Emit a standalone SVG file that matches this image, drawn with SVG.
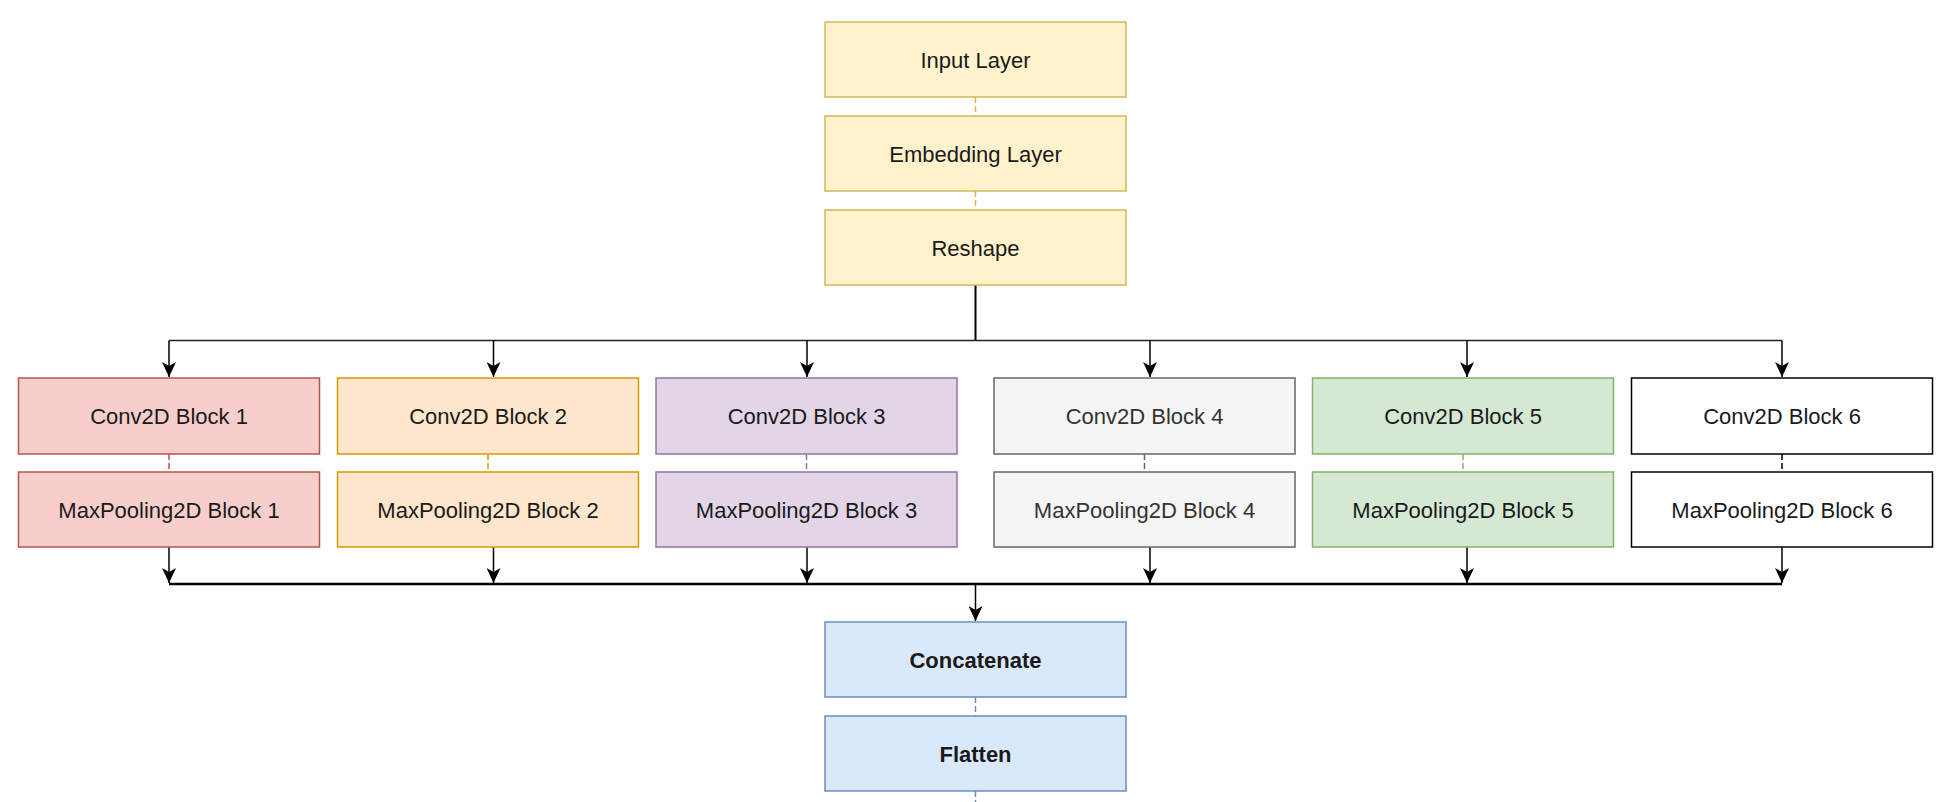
<svg xmlns="http://www.w3.org/2000/svg" width="1954" height="802" viewBox="0 0 1954 802">
<style>
  .box { stroke-width: 1.5; }
  .lbl { font-family: "Liberation Sans", Arial, Helvetica, sans-serif; font-size: 22px; text-anchor: middle; fill: #1a1a1a; }
  .bold { font-weight: bold; }
  .yel { fill: #fff2cc; stroke: #d6b656; }
  .red { fill: #f8cecc; stroke: #b85450; }
  .org { fill: #ffe6cc; stroke: #d79b00; }
  .pur { fill: #e1d5e7; stroke: #9673a6; }
  .gry { fill: #f5f5f5; stroke: #666666; }
  .grn { fill: #d5e8d4; stroke: #82b366; }
  .wht { fill: #ffffff; stroke: #000000; }
  .blu { fill: #dae8fc; stroke: #6c8ebf; }
  .dash { fill: none; stroke-width: 1.5; stroke-dasharray: 6 3; }
  .edge { fill: none; stroke: #000; stroke-width: 1.5; }
  .arr { marker-end: url(#ah); }
</style>
<defs>
  <marker id="ah" viewBox="0 0 14 15" refX="7" refY="15" markerWidth="14" markerHeight="15" markerUnits="userSpaceOnUse" orient="0">
    <path d="M0,0 L7,4 L14,0 L7,15 Z" fill="#000"/>
  </marker>
</defs>
<rect width="1954" height="802" fill="#ffffff"/>

<g id="connectors">
  <!-- dashed links -->
  <line class="dash" stroke="#d6b656" x1="975.5" y1="97" x2="975.5" y2="116"/>
  <line class="dash" stroke="#d6b656" x1="975.5" y1="191" x2="975.5" y2="210"/>
  <line class="dash" stroke="#b85450" x1="169" y1="454" x2="169" y2="472"/>
  <line class="dash" stroke="#d79b00" x1="488" y1="454" x2="488" y2="472"/>
  <line class="dash" stroke="#9673a6" x1="806.5" y1="454" x2="806.5" y2="472"/>
  <line class="dash" stroke="#666666" x1="1144.5" y1="454" x2="1144.5" y2="472"/>
  <line class="dash" stroke="#82b366" x1="1463" y1="454" x2="1463" y2="472"/>
  <line class="dash" stroke="#000000" x1="1782" y1="454" x2="1782" y2="472"/>
  <line class="dash" stroke="#6c8ebf" x1="975.5" y1="697" x2="975.5" y2="716"/>
  <line class="dash" stroke="#6c8ebf" x1="975.5" y1="791" x2="975.5" y2="802"/>
  <!-- fan out -->
  <line class="edge" style="stroke-width:2" x1="975.5" y1="285" x2="975.5" y2="340.5"/>
  <line class="edge" style="stroke:#222" x1="169" y1="340.5" x2="1782" y2="340.5"/>
  <line class="edge arr" x1="169" y1="340.5" x2="169" y2="377"/>
  <line class="edge arr" x1="493.5" y1="340.5" x2="493.5" y2="377"/>
  <line class="edge arr" x1="807" y1="340.5" x2="807" y2="377"/>
  <line class="edge arr" x1="1150" y1="340.5" x2="1150" y2="377"/>
  <line class="edge arr" x1="1467" y1="340.5" x2="1467" y2="377"/>
  <line class="edge arr" x1="1782" y1="340.5" x2="1782" y2="377"/>
  <!-- fan in -->
  <line class="edge arr" x1="169" y1="547" x2="169" y2="583"/>
  <line class="edge arr" x1="493.5" y1="547" x2="493.5" y2="583"/>
  <line class="edge arr" x1="807" y1="547" x2="807" y2="583"/>
  <line class="edge arr" x1="1150" y1="547" x2="1150" y2="583"/>
  <line class="edge arr" x1="1467" y1="547" x2="1467" y2="583"/>
  <line class="edge arr" x1="1782" y1="547" x2="1782" y2="583"/>
  <line class="edge" style="stroke-width:2.5" x1="169" y1="584" x2="1782" y2="584"/>
  <line class="edge arr" x1="975.5" y1="584" x2="975.5" y2="621"/>
</g>

<g id="input-layer"><rect class="box yel" x="825" y="22" width="301" height="75"/><text class="lbl" x="975.5" y="67.5">Input Layer</text></g>
<g id="embedding-layer"><rect class="box yel" x="825" y="116" width="301" height="75"/><text class="lbl" x="975.5" y="161.5">Embedding Layer</text></g>
<g id="reshape"><rect class="box yel" x="825" y="210" width="301" height="75"/><text class="lbl" x="975.5" y="255.5">Reshape</text></g>

<g id="conv1"><rect class="box red" x="18.5" y="378" width="301" height="76"/><text class="lbl" x="169" y="424">Conv2D Block 1</text></g>
<g id="pool1"><rect class="box red" x="18.5" y="472" width="301" height="75"/><text class="lbl" x="169" y="517.5">MaxPooling2D Block 1</text></g>

<g id="conv2"><rect class="box org" x="337.5" y="378" width="301" height="76"/><text class="lbl" x="488" y="424">Conv2D Block 2</text></g>
<g id="pool2"><rect class="box org" x="337.5" y="472" width="301" height="75"/><text class="lbl" x="488" y="517.5">MaxPooling2D Block 2</text></g>

<g id="conv3"><rect class="box pur" x="656" y="378" width="301" height="76"/><text class="lbl" x="806.5" y="424">Conv2D Block 3</text></g>
<g id="pool3"><rect class="box pur" x="656" y="472" width="301" height="75"/><text class="lbl" x="806.5" y="517.5">MaxPooling2D Block 3</text></g>

<g id="conv4"><rect class="box gry" x="994" y="378" width="301" height="76"/><text class="lbl" x="1144.5" y="424" style="fill:#333333">Conv2D Block 4</text></g>
<g id="pool4"><rect class="box gry" x="994" y="472" width="301" height="75"/><text class="lbl" x="1144.5" y="517.5" style="fill:#333333">MaxPooling2D Block 4</text></g>

<g id="conv5"><rect class="box grn" x="1312.5" y="378" width="301" height="76"/><text class="lbl" x="1463" y="424">Conv2D Block 5</text></g>
<g id="pool5"><rect class="box grn" x="1312.5" y="472" width="301" height="75"/><text class="lbl" x="1463" y="517.5">MaxPooling2D Block 5</text></g>

<g id="conv6"><rect class="box wht" x="1631.5" y="378" width="301" height="76"/><text class="lbl" x="1782" y="424">Conv2D Block 6</text></g>
<g id="pool6"><rect class="box wht" x="1631.5" y="472" width="301" height="75"/><text class="lbl" x="1782" y="517.5">MaxPooling2D Block 6</text></g>

<g id="concatenate"><rect class="box blu" x="825" y="622" width="301" height="75"/><text class="lbl bold" x="975.5" y="667.5">Concatenate</text></g>
<g id="flatten"><rect class="box blu" x="825" y="716" width="301" height="75"/><text class="lbl bold" x="975.5" y="761.5">Flatten</text></g>
</svg>
